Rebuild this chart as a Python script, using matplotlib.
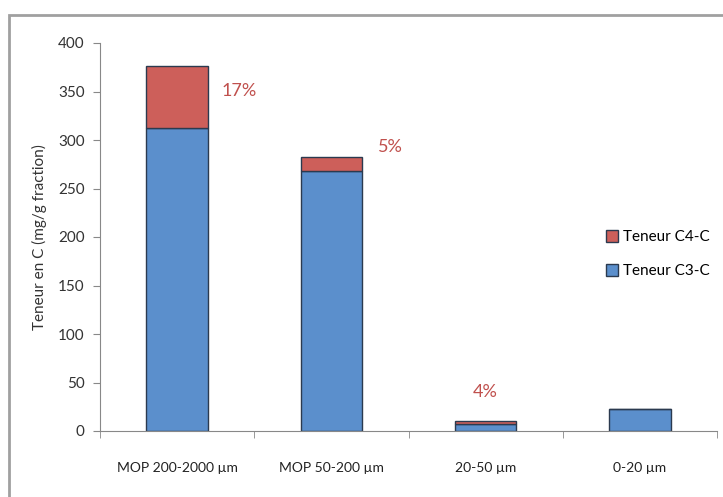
import numpy as np
import matplotlib.pyplot as plt
from matplotlib.patches import Rectangle

categories = ["MOP 200-2000 µm", "MOP 50-200 µm", "20-50 µm", "0-20 µm"]
c3_values = [312, 268, 7, 23]
c4_values = [64, 14, 3, 0]
pct_labels = ["17%", "5%", "4%", ""]
yticks = [0, 50, 100, 150, 200, 250, 300, 350, 400]

plt.rcParams['font.family'] = ['Lato', 'DejaVu Sans']

blue = "#5b8fcc"
red = "#cd5f5a"
edge = "#2b3a4f"

fig = plt.figure(figsize=(7.23, 4.97), dpi=100)
ax = fig.add_axes([100 / 723, 66 / 497, 617 / 723, 388 / 497])

x = np.arange(len(categories))
ax.bar(x, c3_values, width=0.4, color=blue, edgecolor=edge, linewidth=1, label="Teneur C3-C", zorder=2)
ax.bar(x, c4_values, width=0.4, bottom=c3_values, color=red, edgecolor=edge, linewidth=1,
       label="Teneur C4-C", zorder=2)

# percentage annotations next to the bars
pct_pos = [(0.29, 350, "left"), (1.30, 293, "left"), (2.0, 40, "center")]
for (px, py, ha), lab in zip(pct_pos, pct_labels):
    ax.text(px, py, lab, color="#c0504d", fontsize=13, ha=ha, va="center")

ax.set_xlim(-0.5, 3.5)
ax.set_ylim(0, 400)
ax.set_yticks(yticks)
ax.set_yticklabels([str(v) for v in yticks], fontsize=11, color="#333333")
ax.set_xticks(x)
ax.set_xticklabels(categories, fontsize=10, color="#222222")
ax.set_xticks(np.arange(len(categories) + 1) - 0.5, minor=True)
ax.tick_params(axis="x", which="major", length=0, pad=22)
ax.tick_params(axis="x", which="minor", length=5, color="#888888")
ax.tick_params(axis="y", length=5, color="#888888", pad=6)

for s in ["top", "right"]:
    ax.spines[s].set_visible(False)
ax.spines["left"].set_color("#888888")
ax.spines["bottom"].set_color("#888888")

ax.set_ylabel("Teneur en C (mg/g fraction)", fontsize=11, color="#333333", labelpad=8)

handles, labels = ax.get_legend_handles_labels()
fig.legend(handles[::-1], labels[::-1], loc="upper left", bbox_to_anchor=(600 / 723, 1 - 224 / 497),
           frameon=False, fontsize=11, handlelength=0.8, handleheight=0.8, handletextpad=0.3,
           labelspacing=1.3, borderaxespad=0)

# outer gray border of the slide figure
fig.patches.append(Rectangle((9 / 723, -0.1), 1.0, 1 - 15 / 497 + 0.1, transform=fig.transFigure,
                             fill=False, edgecolor="#a0a0a0", linewidth=2))

fig.savefig("out.png", dpi=100)
